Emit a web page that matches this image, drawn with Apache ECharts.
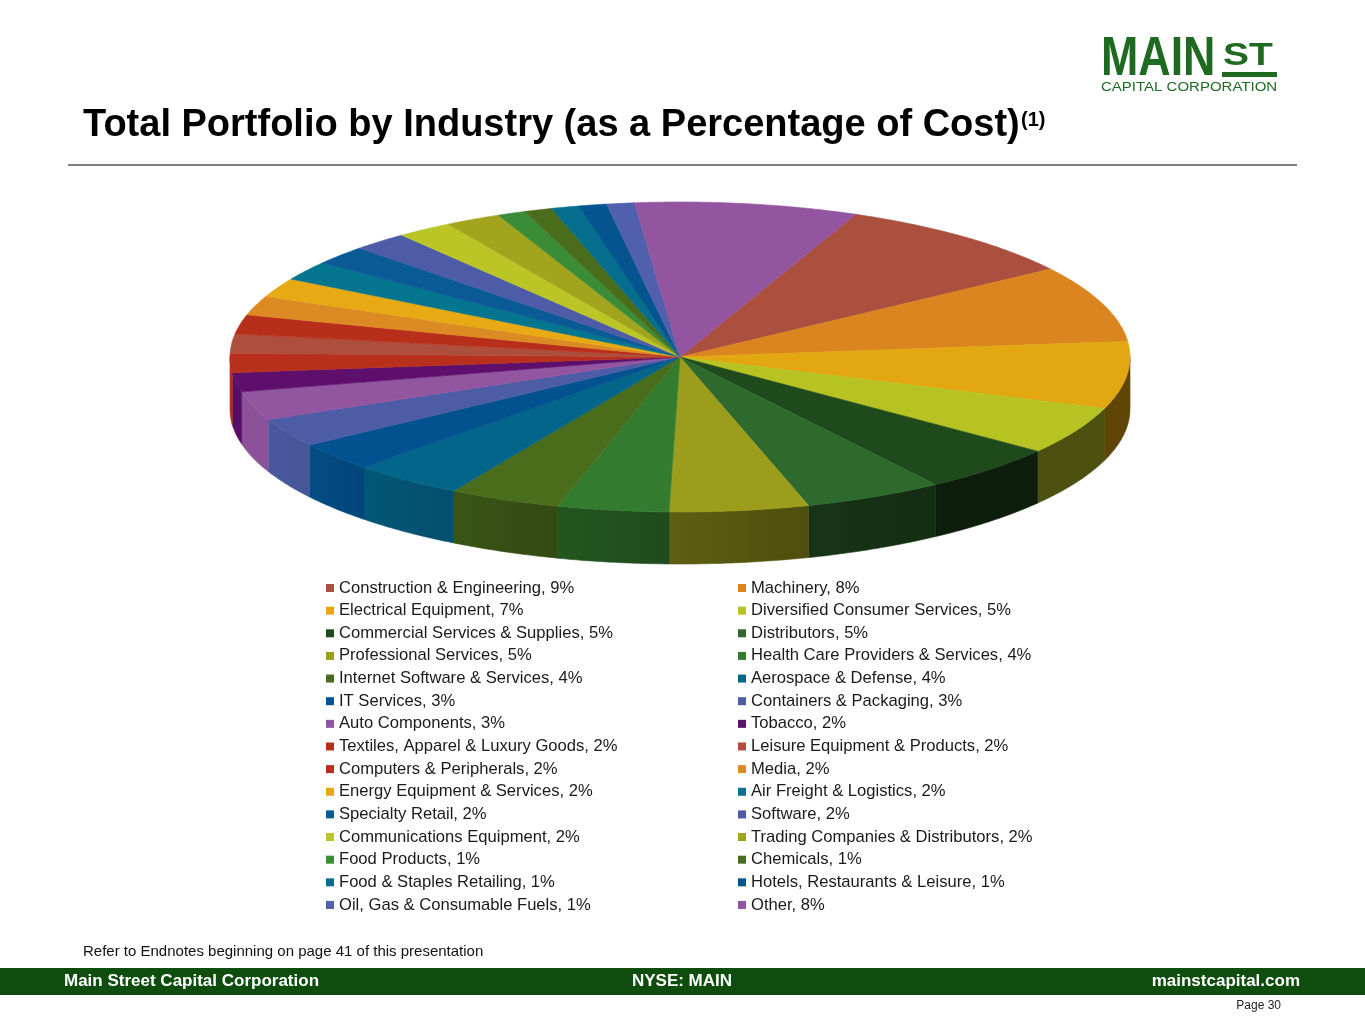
<!DOCTYPE html>
<html>
<head>
<meta charset="utf-8">
<style>
  html, body { margin: 0; padding: 0; background: #fff; }
  #chart { width: 1365px; height: 1024px; }
</style>
</head>
<body>
<div id="chart"></div>
<script src="https://cdn.jsdelivr.net/npm/echarts@6/dist/echarts.min.js"></script>
<script>
  // Industries in legend order (the pie runs clockwise in this same order).
  const categories = [
    'Construction & Engineering', 'Machinery', 'Electrical Equipment',
    'Diversified Consumer Services', 'Commercial Services & Supplies', 'Distributors',
    'Professional Services', 'Health Care Providers & Services', 'Internet Software & Services',
    'Aerospace & Defense', 'IT Services', 'Containers & Packaging',
    'Auto Components', 'Tobacco', 'Textiles, Apparel & Luxury Goods',
    'Leisure Equipment & Products', 'Computers & Peripherals', 'Media',
    'Energy Equipment & Services', 'Air Freight & Logistics', 'Specialty Retail',
    'Software', 'Communications Equipment', 'Trading Companies & Distributors',
    'Food Products', 'Chemicals', 'Food & Staples Retailing',
    'Hotels, Restaurants & Leisure', 'Oil, Gas & Consumable Fuels', 'Other'
  ];
  // Percentage of cost.
  const shares = [9, 8, 7, 5, 5, 5, 5, 4, 4, 4, 3, 3, 3, 2, 2, 2, 2, 2, 2, 2, 2, 2, 2, 2, 1, 1, 1, 1, 1, 8];
  const sliceColors = [
    '#AB503E', '#DA8520', '#E3A712', '#B7C223', '#1F4A1C', '#2E6A2D',
    '#9C9D1C', '#337C2F', '#4A6D1C', '#03658A', '#02528F', '#4D5DA5',
    '#9256A1', '#5E0F6B', '#B8301C', '#AE4F3E', '#B72F1A', '#DC8A23',
    '#E7AA14', '#04758E', '#0A5A96', '#4E5CA8', '#BBC526', '#A2A41E',
    '#3A8C37', '#4A6D1C', '#046E8C', '#03548F', '#5060AC', '#9355A0'
  ];

  const FONT = '"Liberation Sans", Arial, sans-serif';
  // Tilted pie geometry (pixels) and first slice angle, clockwise from 12 o'clock.
  const CX = 680, CY = 357, RX = 450, RY = 155, DEPTH = 52, START = 23;

  const total = shares.reduce((a, b) => a + b, 0);
  const cum = [];
  shares.reduce((acc, v, i) => { cum[i] = acc; return acc + v; }, 0);

  function pt(a, dy) {
    const r = a * Math.PI / 180;
    return [CX + RX * Math.sin(r), CY - RY * Math.cos(r) + (dy || 0)];
  }

  function shade(hex, f) {
    const n = parseInt(hex.slice(1), 16);
    const r = Math.round(((n >> 16) & 255) * f);
    const g = Math.round(((n >> 8) & 255) * f);
    const b = Math.round((n & 255) * f);
    return 'rgb(' + r + ',' + g + ',' + b + ')';
  }

  // Side wall gets darker toward the right, lighter toward the left.
  function sideFactor(a) {
    let t = (a - 150) / 90;
    t = Math.max(0, Math.min(1, t));
    return 0.42 + 0.53 * t;
  }

  function arc(a1, a2, dy) {
    const pts = [];
    const steps = Math.max(2, Math.ceil((a2 - a1) / 0.5));
    for (let k = 0; k <= steps; k++) pts.push(pt(a1 + (a2 - a1) * k / steps, dy));
    return pts;
  }

  function drawSlice(i) {
    const a1 = START + 360 * cum[i] / total;
    const a2 = a1 + 360 * shares[i] / total;
    const color = sliceColors[i];
    const children = [];
    // front rim is visible between 90 and 270 degrees
    [[90, 270], [450, 630]].forEach(function (win) {
      const s = Math.max(a1, win[0]), e = Math.min(a2, win[1]);
      if (e <= s) return;
      const top = arc(s, e, 0);
      const bottom = arc(s, e, DEPTH).reverse();
      const ns = s - (win[0] - 90), ne = e - (win[0] - 90);
      const p1 = pt(s), p2 = pt(e);
      children.push({
        type: 'polygon',
        z2: 1,
        shape: { points: top.concat(bottom) },
        style: {
          fill: new echarts.graphic.LinearGradient(p1[0], 0, p2[0] === p1[0] ? p1[0] + 1 : p2[0], 0, [
            { offset: 0, color: shade(color, sideFactor(ns)) },
            { offset: 1, color: shade(color, sideFactor(ne)) }
          ], true),
          stroke: shade(color, sideFactor((ns + ne) / 2)),
          lineWidth: 0.6
        }
      });
    });
    children.push({
      type: 'polygon',
      z2: 10,
      shape: { points: [[CX, CY]].concat(arc(a1, a2, 0)) },
      style: { fill: color, stroke: color, lineWidth: 0.6 }
    });
    return { type: 'group', children: children };
  }

  const legendBase = {
    orient: 'vertical',
    top: 578,
    padding: 0,
    icon: 'rect',
    itemWidth: 8,
    itemHeight: 8,
    itemGap: 2.64,
    selectedMode: false,
    textStyle: { fontFamily: FONT, fontSize: 16.6, color: '#1a1a1a', lineHeight: 20 },
    formatter: function (name) { return name + ', ' + shares[categories.indexOf(name)] + '%'; }
  };

  const option = {
    animation: false,
    color: sliceColors,
    legend: [
      Object.assign({}, legendBase, { left: 326, data: categories.filter((c, i) => i % 2 === 0) }),
      Object.assign({}, legendBase, { left: 738, data: categories.filter((c, i) => i % 2 === 1) })
    ],
    series: categories.map(function (name, i) {
      return {
        type: 'custom',
        name: name,
        coordinateSystem: 'none',
        silent: true,
        itemStyle: { color: sliceColors[i] },
        data: [[shares[i]]],
        renderItem: function () { return drawSlice(i); }
      };
    }),
    graphic: [
      // logo
      { type: 'text', x: 1101, y: 60, scaleX: 0.8, style: { text: 'MAIN', fontFamily: FONT, fontWeight: 'bold', fontSize: 56, fill: '#1E6A21', verticalAlign: 'middle' } },
      { type: 'text', x: 1223, y: 56, scaleX: 1.22, style: { text: 'ST', fontFamily: FONT, fontWeight: 'bold', fontSize: 32, fill: '#1E6A21', verticalAlign: 'middle' } },
      { type: 'rect', shape: { x: 1222, y: 72, width: 55, height: 5 }, style: { fill: '#1E6A21' } },
      { type: 'text', x: 1101, y: 88, scaleX: 1.2, style: { text: 'CAPITAL CORPORATION', fontFamily: FONT, fontSize: 12.5, fill: '#1E6A21', verticalAlign: 'middle' } },
      // title
      { type: 'text', x: 83, y: 126, style: { text: 'Total Portfolio by Industry (as a Percentage of Cost)', fontFamily: FONT, fontWeight: 'bold', fontSize: 38, fill: '#000', verticalAlign: 'middle' } },
      { type: 'text', x: 1021, y: 120, style: { text: '(1)', fontFamily: FONT, fontWeight: 'bold', fontSize: 20, fill: '#000', verticalAlign: 'middle' } },
      { type: 'line', shape: { x1: 68, y1: 165, x2: 1297, y2: 165 }, style: { stroke: '#7f7f7f', lineWidth: 2 } },
      // footer
      { type: 'text', x: 83, y: 952, style: { text: 'Refer to Endnotes beginning on page 41 of this presentation', fontFamily: FONT, fontSize: 15, fill: '#111', verticalAlign: 'middle' } },
      { type: 'rect', shape: { x: 0, y: 968, width: 1365, height: 27 }, style: { fill: '#0E4D0D' } },
      { type: 'text', x: 64, y: 981, style: { text: 'Main Street Capital Corporation', fontFamily: FONT, fontWeight: 'bold', fontSize: 17, fill: '#fff', verticalAlign: 'middle' } },
      { type: 'text', x: 682, y: 981, style: { text: 'NYSE: MAIN', fontFamily: FONT, fontWeight: 'bold', fontSize: 17, fill: '#fff', align: 'center', verticalAlign: 'middle' } },
      { type: 'text', x: 1300, y: 981, style: { text: 'mainstcapital.com', fontFamily: FONT, fontWeight: 'bold', fontSize: 17, fill: '#fff', align: 'right', verticalAlign: 'middle' } },
      { type: 'text', x: 1281, y: 1006, style: { text: 'Page 30', fontFamily: FONT, fontSize: 12, fill: '#222', align: 'right', verticalAlign: 'middle' } }
    ]
  };

  const chart = echarts.init(document.getElementById('chart'));
  chart.setOption(option);
</script>
</body>
</html>
